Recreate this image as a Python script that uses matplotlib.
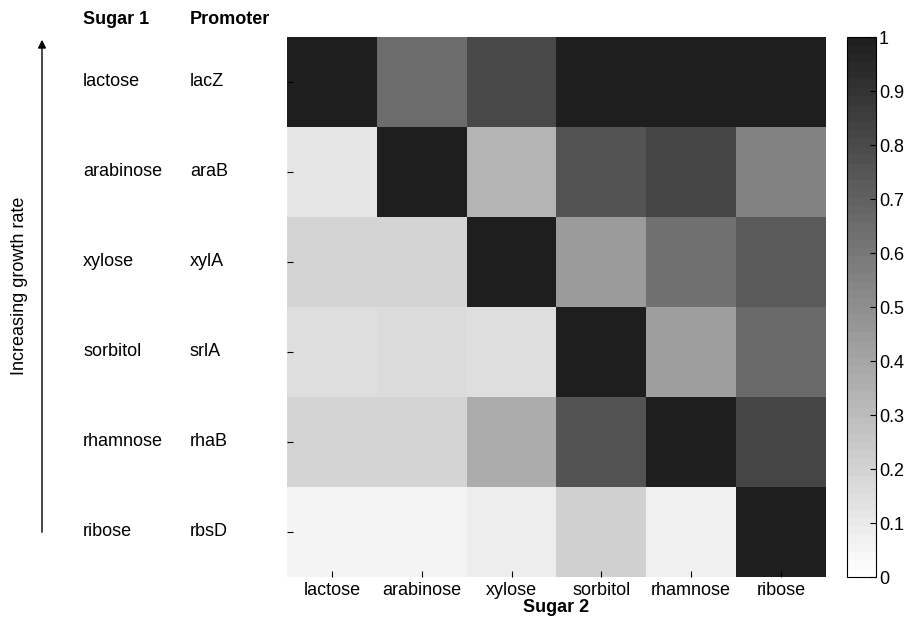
import numpy as np
import matplotlib
matplotlib.use("Agg")
import matplotlib.pyplot as plt
from matplotlib.colors import LinearSegmentedColormap

plt.rcParams['font.family'] = ['Liberation Sans', 'DejaVu Sans']

sugar1 = ["lactose", "arabinose", "xylose", "sorbitol", "rhamnose", "ribose"]
promoters = ["lacZ", "araB", "xylA", "srlA", "rhaB", "rbsD"]
sugar2 = ["lactose", "arabinose", "xylose", "sorbitol", "rhamnose", "ribose"]
values = np.array([
    [1.00, 0.65, 0.80, 1.00, 1.00, 1.00],
    [0.11, 1.00, 0.33, 0.75, 0.82, 0.55],
    [0.19, 0.19, 1.00, 0.45, 0.64, 0.72],
    [0.15, 0.17, 0.15, 1.00, 0.43, 0.67],
    [0.19, 0.19, 0.36, 0.76, 1.00, 0.82],
    [0.05, 0.06, 0.08, 0.21, 0.07, 1.00],
])

cmap = LinearSegmentedColormap.from_list("g", ["#ffffff", "#1e1e1e"], N=64)

fig = plt.figure(figsize=(9.19, 6.29), dpi=100)
ax = fig.add_axes([287/919, 1-577/629, 539/919, 540/629])
im = ax.imshow(values, cmap=cmap, vmin=0, vmax=1, aspect="auto")
ax.set_xticks(range(6))
ax.set_xticklabels(sugar2, fontsize=13)
ax.set_yticks(range(6))
ax.set_yticklabels([])
ax.tick_params(direction="in", length=4)
ax.set_xlabel("Sugar 2", fontsize=13, fontweight="bold", labelpad=0)
for s in ax.spines.values():
    s.set_visible(False)

for i in range(6):
    yy = ax.transData.transform((0, i))[1]/629
    fig.text(83/919, yy, sugar1[i], fontsize=13, va="center")
    fig.text(190/919, yy, promoters[i], fontsize=13, va="center")
fig.text(83/919, 1-19/629, "Sugar 1", fontsize=13, fontweight="bold", va="center")
fig.text(190/919, 1-19/629, "Promoter", fontsize=13, fontweight="bold", va="center")

fig.add_artist(matplotlib.patches.FancyArrowPatch((42/919, 1-535/629), (42/919, 1-37/629),
               transform=fig.transFigure, arrowstyle="-|>", mutation_scale=12, color="black", lw=1))
fig.text(20/919, 1-286/629, "Increasing growth rate", fontsize=13, rotation=90, va="center", ha="center")

cax = fig.add_axes([847/919, 1-577/629, 29/919, 540/629])
cb = fig.colorbar(im, cax=cax)
cb.set_ticks(np.arange(0, 1.01, 0.1))
cb.set_ticklabels(["0", "0.1", "0.2", "0.3", "0.4", "0.5", "0.6", "0.7", "0.8", "0.9", "1"])
cax.tick_params(labelsize=13, direction="in", length=4, pad=2)

fig.savefig("out.png", dpi=100)
